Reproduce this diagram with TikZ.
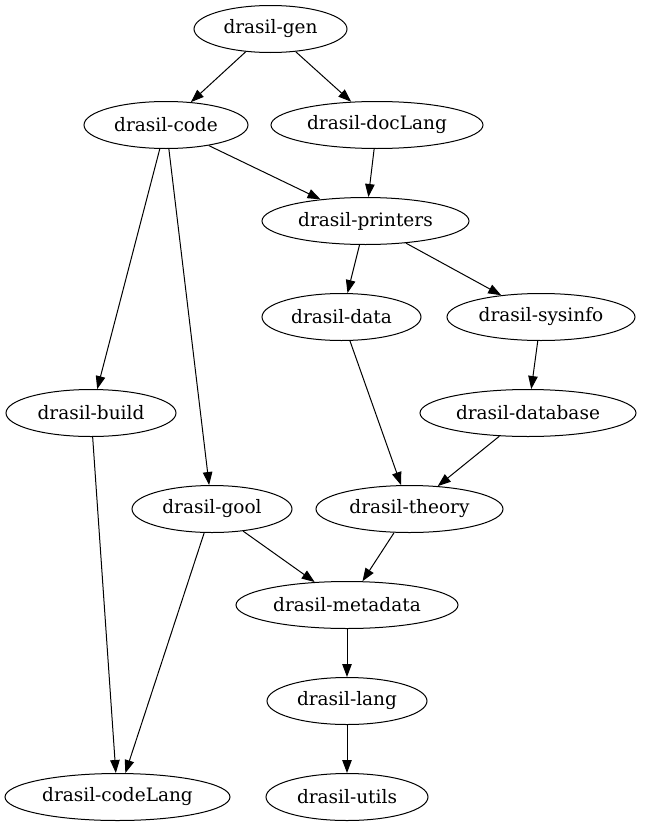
\documentclass[tikz,border=0pt]{standalone}
\usepackage{fontspec}
\setmainfont{DejaVu Serif}
\usetikzlibrary{shapes.geometric,arrows.meta}
\begin{document}
\begin{tikzpicture}[x=1pt,y=-1pt,
  pkg/.style={draw,ellipse,line width=1pt,inner sep=0pt,minimum height=47pt,font=\fontsize{18.5}{21}\selectfont},
  dep/.style={line width=1pt,-{Triangle[length=13pt,width=9.5pt]}}]
\useasboundingbox (0,0) rectangle (646,827);
\node[pkg,minimum width=153pt] (gen) at (270.5,29) {drasil-gen};
\node[pkg,minimum width=164pt] (code) at (166,125) {drasil-code};
\node[pkg,minimum width=212pt] (docLang) at (377,125) {drasil-docLang};
\node[pkg,minimum width=207pt] (printers) at (365.5,221) {drasil-printers};
\node[pkg,minimum width=159pt] (data) at (341.5,317) {drasil-data};
\node[pkg,minimum width=188pt] (sysinfo) at (541,317) {drasil-sysinfo};
\node[pkg,minimum width=170pt] (build) at (91,413) {drasil-build};
\node[pkg,minimum width=216pt] (database) at (528,413) {drasil-database};
\node[pkg,minimum width=160pt] (gool) at (212,509) {drasil-gool};
\node[pkg,minimum width=187pt] (theory) at (409.5,509) {drasil-theory};
\node[pkg,minimum width=222pt] (metadata) at (347,605) {drasil-metadata};
\node[pkg,minimum width=160pt] (lang) at (347,701) {drasil-lang};
\node[pkg,minimum width=225pt] (codeLang) at (117.5,797) {drasil-codeLang};
\node[pkg,minimum width=162pt] (utils) at (347,797) {drasil-utils};
\draw[dep] (gen) -- (code);
\draw[dep] (gen) -- (docLang);
\draw[dep] (code) -- (printers);
\draw[dep] (code) -- (build);
\draw[dep] (code) -- (gool);
\draw[dep] (docLang) -- (printers);
\draw[dep] (printers) -- (data);
\draw[dep] (printers) -- (sysinfo);
\draw[dep] (data) -- (theory);
\draw[dep] (sysinfo) -- (database);
\draw[dep] (database) -- (theory);
\draw[dep] (build) -- (codeLang);
\draw[dep] (gool) -- (metadata);
\draw[dep] (gool) -- (codeLang);
\draw[dep] (theory) -- (metadata);
\draw[dep] (metadata) -- (lang);
\draw[dep] (lang) -- (utils);
\end{tikzpicture}
\end{document}
